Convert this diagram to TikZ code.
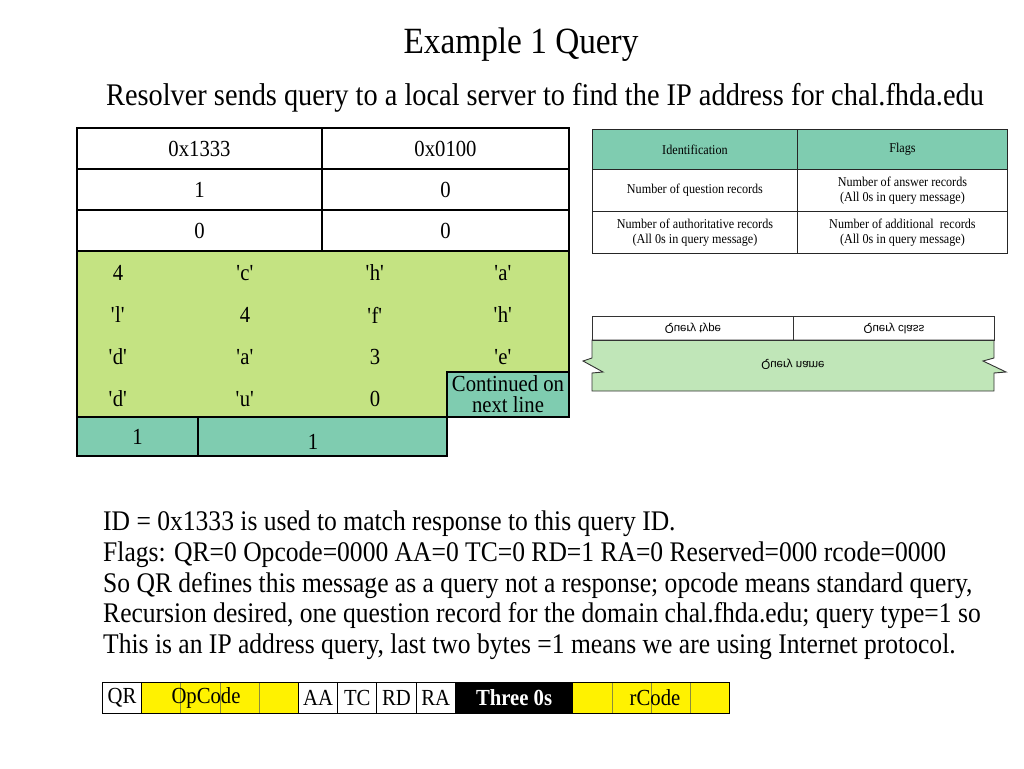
\documentclass[tikz,border=0pt]{standalone}
\usepackage{fontspec}
\setmainfont[FakeStretch=0.9]{Liberation Serif}
\newfontfamily\qsans{Liberation Sans}
\usepackage{graphicx}
\usepackage{tikz}
\usetikzlibrary{positioning}
\definecolor{limegrn}{RGB}{196,227,130}
\definecolor{tealgrn}{RGB}{127,204,176}
\definecolor{palegrn}{RGB}{192,230,184}
\definecolor{olivegr}{RGB}{140,140,60}
\newcommand{\ch}[1]{\textquotesingle#1\textquotesingle}
\tikzstyle{tabcell} = [draw=black, line width=1.3pt, rectangle, anchor=north west, inner sep=0pt, outer sep=0pt, font=\fontsize{23}{23}\selectfont]
\tikzstyle{bytelabel} = [inner sep=0pt, font=\fontsize{23}{21}\selectfont]
\tikzstyle{hdrcell} = [draw=black!85, line width=0.9pt, rectangle, anchor=north west, inner sep=0pt, align=center, font=\fontsize{13.5}{15}\selectfont]
\tikzstyle{qcell} = [draw=black!80, line width=0.9pt, rectangle, anchor=north west, inner sep=0pt, font=\qsans\fontsize{11.5}{12}\selectfont]
\tikzstyle{bitcell} = [draw=black, line width=1pt, rectangle, anchor=north west, inner sep=0pt, minimum width=39.2pt, minimum height=31pt, font=\fontsize{23}{23}\selectfont]
\tikzstyle{opbit} = [bitcell, fill=yellow, draw=olivegr, line width=0.6pt]
\tikzstyle{bodyline} = [anchor=base west, inner sep=0pt, font=\fontsize{28.4}{31}\selectfont]

\begin{document}
\begin{tikzpicture}[x=1pt,y=-1pt]
		\useasboundingbox (0,0) rectangle (1024,768);
		\node [inner sep=0pt, font=\fontsize{37}{40}\selectfont] (title) at (521,45) {Example 1 Query};
		\node [inner sep=0pt, font=\fontsize{31.5}{34}\selectfont] (subtitle) at (545,98) {Resolver sends query to a local server to find the IP address for chal.fhda.edu};

		% query message bytes
		\node [tabcell, minimum width=245pt, minimum height=41pt] (id) at (77,128) {0x1333};
		\node [tabcell, minimum width=247pt, minimum height=41pt] (flags) at (322,128) {0x0100};
		\node [tabcell, minimum width=245pt, minimum height=41pt] (qdcount) at (77,169) {1};
		\node [tabcell, minimum width=247pt, minimum height=41pt] (ancount) at (322,169) {0};
		\node [tabcell, minimum width=245pt, minimum height=41pt] (nscount) at (77,210) {0};
		\node [tabcell, minimum width=247pt, minimum height=41pt] (arcount) at (322,210) {0};
		\node [tabcell, fill=limegrn, minimum width=492pt, minimum height=166pt] (qname) at (77,251) {};
		\node [tabcell, fill=tealgrn, minimum width=122pt, minimum height=45pt, align=center, font=\fontsize{23}{21}\selectfont] (cont) at (447,372) {Continued on\\next line};
		\node [tabcell, fill=tealgrn, minimum width=121pt, minimum height=39pt] (qtype) at (77,417) {1};
		\node [tabcell, fill=tealgrn, minimum width=249pt, minimum height=39pt] (qclass) at (198,417) {};
		\node [bytelabel] (qclass_t) at (313,442) {1};

		\node [bytelabel] (n1) at (118,273) {4};
		\node [bytelabel] (n2) at (245,273) {\ch{c}};
		\node [bytelabel] (n3) at (375,273) {\ch{h}};
		\node [bytelabel] (n4) at (503,273) {\ch{a}};
		\node [bytelabel] (n5) at (118,315) {\ch{l}};
		\node [bytelabel] (n6) at (245,315) {4};
		\node [bytelabel] (n7) at (375,315) {\ch{f}};
		\node [bytelabel] (n8) at (503,315) {\ch{h}};
		\node [bytelabel] (n9) at (118,357) {\ch{d}};
		\node [bytelabel] (n10) at (245,357) {\ch{a}};
		\node [bytelabel] (n11) at (375,357) {3};
		\node [bytelabel] (n12) at (503,357) {\ch{e}};
		\node [bytelabel] (n13) at (118,399) {\ch{d}};
		\node [bytelabel] (n14) at (245,399) {\ch{u}};
		\node [bytelabel] (n15) at (375,399) {0};

		% header format
		\node [hdrcell, fill=tealgrn, minimum width=205pt, minimum height=40pt] (h_id) at (592,129) {Identification};
		\node [hdrcell, fill=tealgrn, minimum width=210pt, minimum height=40pt] (h_flags) at (797,129) {Flags};
		\node [hdrcell, minimum width=205pt, minimum height=42pt] (h_qd) at (592,169) {Number of question records};
		\node [hdrcell, minimum width=210pt, minimum height=42pt] (h_an) at (797,169) {Number of answer records\\(All 0s in query message)};
		\node [hdrcell, minimum width=205pt, minimum height=42pt] (h_ns) at (592,211) {Number of authoritative records\\(All 0s in query message)};
		\node [hdrcell, minimum width=210pt, minimum height=42pt] (h_ar) at (797,211) {Number of additional\ \ records\\(All 0s in query message)};

		% question record
		\draw [draw=black!80, line width=0.9pt, fill=palegrn] (592,340) -- (994,340) -- (994,358) -- (983,361) -- (1006,372) -- (994,373) -- (994,391) -- (592,391) -- (592,373) -- (603,372) -- (583,361) -- (592,358) -- cycle;
		\node [qcell, minimum width=201pt, minimum height=24pt] (q_type) at (592,316) {\scalebox{1}[-1]{Query type}};
		\node [qcell, minimum width=201pt, minimum height=24pt] (q_class) at (793,316) {\scalebox{1}[-1]{Query class}};
		\node [inner sep=0pt, font=\qsans\fontsize{11.5}{12}\selectfont] (q_name) at (793,364) {\scalebox{1}[-1]{Query name}};

		% explanation
		\node [bodyline] (line1) at (103,530) {ID = 0x1333 is used to match response to this query ID.};
		\node [bodyline] (line2) at (103,561) {Flags: QR=0 Opcode=0000 AA=0 TC=0 RD=1 RA=0 Reserved=000 rcode=0000};
		\node [bodyline] (line3) at (103,592) {So QR defines this message as a query not a response; opcode means standard query,};
		\node [bodyline] (line4) at (103,622) {Recursion desired, one question record for the domain chal.fhda.edu; query type=1 so};
		\node [bodyline] (line5) at (103,653) {This is an IP address query, last two bytes =1 means we are using Internet protocol.};

		% flag bits
		\node [opbit] (op1) at (141.2,682) {};
		\node [opbit] (op2) at (180.4,682) {};
		\node [opbit] (op3) at (219.6,682) {};
		\node [opbit] (op4) at (258.8,682) {};
		\node [opbit] (rc1) at (572.4,682) {};
		\node [opbit] (rc2) at (611.6,682) {};
		\node [opbit] (rc3) at (650.8,682) {};
		\node [opbit] (rc4) at (690,682) {};
		\node [bitcell] (qr) at (102,682) {QR};
		\node [bitcell] (aa) at (298,682) {AA};
		\node [bitcell] (tc) at (337.2,682) {TC};
		\node [bitcell] (rd) at (376.4,682) {RD};
		\node [bitcell] (ra) at (415.6,682) {RA};
		\node [bitcell, fill=black, text=white, minimum width=117.6pt, font=\bfseries\fontsize{23}{23}\selectfont] (zero) at (454.8,682) {Three 0s};
		\node [bytelabel] (opcode) at (206,698) {OpCode};
		\node [bytelabel] (rcode) at (655,698) {rCode};
		\node [bitcell, minimum width=627.2pt] (bits) at (102,682) {};
\end{tikzpicture}
\end{document}
